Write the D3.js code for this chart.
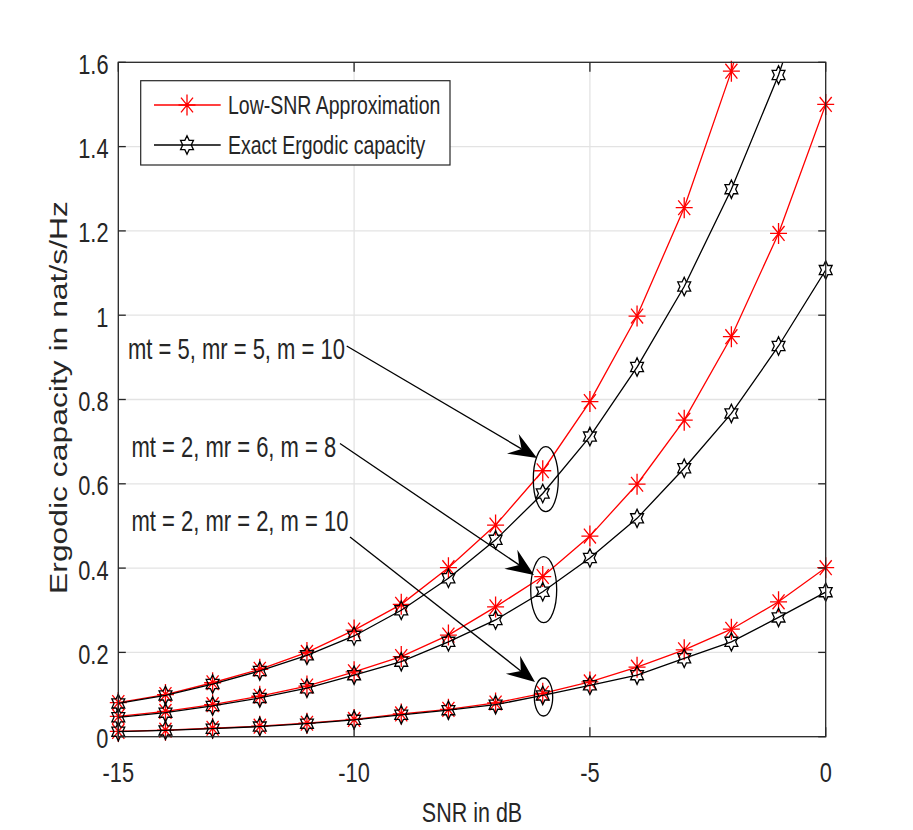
<!DOCTYPE html>
<html>
<head>
<meta charset="utf-8">
<script src="https://cdn.jsdelivr.net/npm/d3@7"></script>
<style>
  body { margin: 0; background: #fff; }
  text { font-family: "Liberation Sans", Arial, Helvetica, sans-serif; fill: #262626; }
</style>
</head>
<body>
<div id="chart"></div>
<script>
// SNR in dB
var snr = [-15,-14,-13,-12,-11,-10,-9,-8,-7,-6,-5,-4,-3,-2,-1,0];

// mt = 5, mr = 5, m = 10
var approxA = [0.081,0.100,0.128,0.160,0.200,0.253,0.314,0.401,0.502,0.631,0.795,0.998,1.255,1.579,1.99,2.50];
var exactA  = [0.079,0.098,0.125,0.156,0.193,0.239,0.300,0.376,0.467,0.577,0.712,0.877,1.068,1.299,1.570,1.90];
// mt = 2, mr = 6, m = 8
var approxB = [0.048,0.060,0.076,0.096,0.120,0.154,0.190,0.241,0.308,0.380,0.476,0.599,0.751,0.949,1.194,1.500];
var exactB  = [0.046,0.057,0.073,0.092,0.115,0.146,0.178,0.225,0.277,0.344,0.424,0.518,0.637,0.767,0.927,1.107];
// mt = 2, mr = 2, m = 10
var approxC = [0.0125,0.0155,0.020,0.025,0.032,0.041,0.054,0.065,0.080,0.103,0.130,0.165,0.206,0.255,0.320,0.401];
var exactC  = [0.012,0.015,0.019,0.024,0.031,0.040,0.052,0.063,0.076,0.098,0.122,0.146,0.186,0.225,0.283,0.343];

var xTicks = [-15,-10,-5,0];
var xTickLabels = ["-15","-10","-5","0"];
var yTicks = [0,0.2,0.4,0.6,0.8,1,1.2,1.4,1.6];
var yTickLabels = ["0","0.2","0.4","0.6","0.8","1","1.2","1.4","1.6"];

var legendLabels = ["Low-SNR Approximation","Exact Ergodic capacity"];
var notes = ["mt = 5, mr = 5, m = 10","mt = 2, mr = 6, m = 8","mt = 2, mr = 2, m = 10"];

var W = 913, H = 830;
var VS = 1.3; // the figure is stretched vertically
var axisColor = "#262626";

var x = d3.scaleLinear().domain([-15,0]).range([118.3,825.7]);
var y = d3.scaleLinear().domain([0,1.6]).range([736.7,62.3]);

var svg = d3.select("#chart").append("svg").attr("width",W).attr("height",H);

function htext(g, px, py, size, str, anchor) {
  return g.append("text")
    .attr("transform","translate(" + px + "," + py + ") scale(" + (1/VS) + ",1)")
    .attr("font-size", size*VS)
    .attr("text-anchor", anchor || "start")
    .text(str);
}

// grid
var grid = svg.append("g");
grid.selectAll("line.gx").data(xTicks.slice(1,-1)).enter().append("line")
  .attr("x1",function(d){return x(d);}).attr("x2",function(d){return x(d);})
  .attr("y1",y(0)).attr("y2",y(1.6))
  .attr("stroke","#e3e3e3").attr("stroke-width",1.3);
grid.selectAll("line.gy").data(yTicks.slice(1,-1)).enter().append("line")
  .attr("y1",function(d){return y(d);}).attr("y2",function(d){return y(d);})
  .attr("x1",x(-15)).attr("x2",x(0))
  .attr("stroke","#e3e3e3").attr("stroke-width",1.3);

svg.append("clipPath").attr("id","clip").append("rect")
  .attr("x",x(-15)).attr("y",y(1.6)).attr("width",x(0)-x(-15)).attr("height",y(0)-y(1.6));

var line = d3.line().x(function(d,i){return x(snr[i]);}).y(function(d){return y(d);});

function asterisk(a, b) {
  var c = a/Math.SQRT2, e = b/Math.SQRT2;
  return "M" + (-a) + ",0H" + a + "M0," + (-b) + "V" + b +
    "M" + (-c) + "," + (-e) + "L" + c + "," + e + "M" + (-c) + "," + e + "L" + c + "," + (-e);
}
function hexagram(R) {
  var pts = [];
  for (var k = 0; k < 12; k++) {
    var ang = Math.PI/2 + k*Math.PI/6;
    var r = (k % 2 === 0) ? R : R/Math.sqrt(3);
    pts.push([r*Math.cos(ang)/VS*1.05, -r*Math.sin(ang)]);
  }
  return "M" + pts.map(function(p){return p[0].toFixed(2)+","+p[1].toFixed(2);}).join("L") + "Z";
}
var starPath = asterisk(8.5, 10.5);
var hexPath = hexagram(9.2);

var plot = svg.append("g");
function drawSeries(vals, color, markerPath) {
  plot.append("path").datum(vals).attr("d",line).attr("clip-path","url(#clip)")
    .attr("fill","none").attr("stroke",color).attr("stroke-width",1.3);
  plot.append("g").selectAll("path").data(vals.filter(function(v){return v <= 1.6;})).enter().append("path")
    .attr("transform",function(d){ return "translate(" + x(snr[vals.indexOf(d)]) + "," + y(d) + ")"; })
    .attr("d",markerPath).attr("fill","none").attr("stroke",color).attr("stroke-width",1.3);
}
[approxA, approxB, approxC].forEach(function(s){ drawSeries(s, "#ff0000", starPath); });
[exactA, exactB, exactC].forEach(function(s){ drawSeries(s, "#000000", hexPath); });

// axes box and ticks
var ax = svg.append("g").attr("stroke",axisColor).attr("stroke-width",1.3);
ax.append("rect").attr("x",x(-15)).attr("y",y(1.6)).attr("width",x(0)-x(-15)).attr("height",y(0)-y(1.6))
  .attr("fill","none");
xTicks.forEach(function(t){
  ax.append("line").attr("x1",x(t)).attr("x2",x(t)).attr("y1",y(0)).attr("y2",y(0)-9.5);
  ax.append("line").attr("x1",x(t)).attr("x2",x(t)).attr("y1",y(1.6)).attr("y2",y(1.6)+9.5);
});
yTicks.forEach(function(t){
  ax.append("line").attr("y1",y(t)).attr("y2",y(t)).attr("x1",x(-15)).attr("x2",x(-15)+7.5);
  ax.append("line").attr("y1",y(t)).attr("y2",y(t)).attr("x1",x(0)).attr("x2",x(0)-7.5);
});

var labels = svg.append("g");
xTicks.forEach(function(t,i){ htext(labels, x(t), 781.5, 21.8, xTickLabels[i], "middle"); });
yTicks.forEach(function(t,i){ htext(labels, 108.5, y(t)+11.5, 21.8, yTickLabels[i], "end"); });

htext(labels, (x(-15)+x(0))/2, 822, 21.5, "SNR in dB", "middle");
labels.append("text")
  .attr("transform","translate(67," + ((y(0)+y(1.6))/2 - 2) + ") rotate(-90) scale(" + VS + ",1)")
  .attr("font-size",24.5).attr("text-anchor","middle")
  .text("Ergodic capacity in nat/s/Hz");

// legend
var lg = svg.append("g");
lg.append("rect").attr("x",140.7).attr("y",80.7).attr("width",309.3).attr("height",84.3)
  .attr("fill","#fff").attr("stroke",axisColor).attr("stroke-width",1.2);
var legendStyles = [["#ff0000", starPath],["#000000", hexPath]];
legendLabels.forEach(function(lab,i){
  var ly = 105 + i*40;
  lg.append("line").attr("x1",154).attr("x2",220.7).attr("y1",ly).attr("y2",ly)
    .attr("stroke",legendStyles[i][0]).attr("stroke-width",1.3);
  lg.append("path").attr("transform","translate(187," + ly + ")").attr("d",legendStyles[i][1])
    .attr("fill","none").attr("stroke",legendStyles[i][0]).attr("stroke-width",1.3);
  htext(lg, 228, ly + 8.5, 19.5, lab, "start").attr("fill","#000");
});

// annotations
var notePos = [[128,359],[131.5,457],[131.5,531]];
var tails = [[346.7,346],[340,443.5],[350,537]];
var tips = [[537,458],[534,575],[535,682]];
var ellipses = [[545.8,479.2,12.5,32.5],[543.7,589.7,13,33],[543.5,697,9.2,19]];
var an = svg.append("g");
notes.forEach(function(n,i){
  htext(an, notePos[i][0], notePos[i][1], 22, n, "start").attr("fill","#000");
  var t0 = tails[i], t1 = tips[i];
  var dx = t1[0]-t0[0], dy = t1[1]-t0[1], L = Math.sqrt(dx*dx+dy*dy);
  var ux = dx/L, uy = dy/L, nx = -uy, ny = ux;
  var hl = 28, hw = 11.5, notch = 18;
  an.append("line").attr("x1",t0[0]).attr("y1",t0[1])
    .attr("x2",t1[0]-ux*notch).attr("y2",t1[1]-uy*notch)
    .attr("stroke","#000").attr("stroke-width",1.3);
  var p = [
    [t1[0], t1[1]],
    [t1[0]-ux*hl+nx*hw, t1[1]-uy*hl+ny*hw],
    [t1[0]-ux*notch, t1[1]-uy*notch],
    [t1[0]-ux*hl-nx*hw, t1[1]-uy*hl-ny*hw]
  ];
  an.append("path").attr("d","M" + p.map(function(q){return q[0].toFixed(1)+","+q[1].toFixed(1);}).join("L") + "Z")
    .attr("fill","#000");
  var e = ellipses[i];
  an.append("ellipse").attr("cx",e[0]).attr("cy",e[1]).attr("rx",e[2]).attr("ry",e[3])
    .attr("fill","none").attr("stroke","#000").attr("stroke-width",1.3);
});
</script>
</body>
</html>
